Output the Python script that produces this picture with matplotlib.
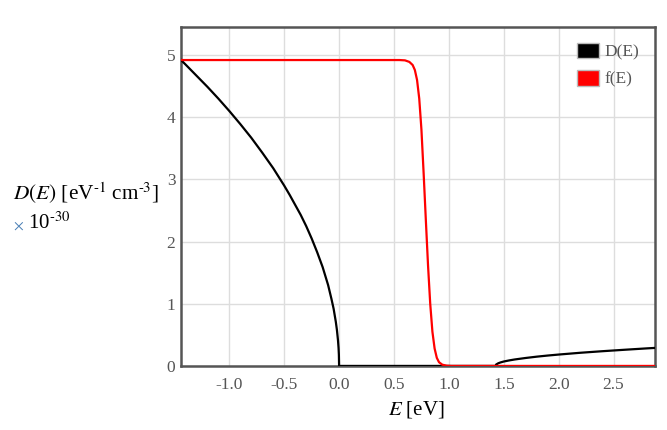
import numpy as np
import matplotlib
matplotlib.use('Agg')
import matplotlib.pyplot as plt
from matplotlib.patches import Patch

plt.rcParams['font.family'] = ['Liberation Serif', 'DejaVu Serif']
plt.rcParams['mathtext.fontset'] = 'stix'
plt.rcParams['axes.unicode_minus'] = False

# density of states D(E), units of 1e30
e_dos = [-1.44, -1.4, -1.3, -1.2, -1.1, -1.0, -0.9, -0.8, -0.7, -0.6, -0.5,
         -0.45, -0.4, -0.35, -0.3, -0.25, -0.2, -0.15, -0.1, -0.07, -0.05,
         -0.03, -0.02, -0.01, -0.005, -0.002, 0.0, 0.5, 1.0, 1.425, 1.43,
         1.45, 1.47, 1.5, 1.55, 1.6, 1.7, 1.8, 1.9, 2.0, 2.2, 2.4, 2.6,
         2.8, 2.88]
d_dos = [4.92, 4.85, 4.67, 4.49, 4.30, 4.10, 3.89, 3.67, 3.43, 3.18, 2.90,
         2.75, 2.59, 2.43, 2.25, 2.05, 1.83, 1.59, 1.30, 1.08, 0.92,
         0.71, 0.58, 0.41, 0.29, 0.18, 0.0, 0.0, 0.0, 0.0, 0.022,
         0.043, 0.056, 0.071, 0.089, 0.104, 0.128, 0.149, 0.167, 0.183,
         0.212, 0.237, 0.26, 0.282, 0.29]

# Fermi function (scaled)
e_f = [-1.44, 0.55, 0.60, 0.64, 0.67, 0.69, 0.71, 0.73, 0.75, 0.77, 0.79,
       0.81, 0.83, 0.85, 0.87, 0.89, 0.91, 0.94, 0.98, 1.02, 2.88]
f_f = [4.92, 4.92, 4.915, 4.89, 4.84, 4.76, 4.6, 4.3, 3.8, 3.1, 2.35,
       1.62, 1.0, 0.55, 0.28, 0.13, 0.06, 0.02, 0.004, 0.0, 0.0]

xticks = [-1.0, -0.5, 0.0, 0.5, 1.0, 1.5, 2.0, 2.5]
yticks = [0, 1, 2, 3, 4, 5]

fig = plt.figure(figsize=(6.67, 4.3), dpi=100)
ax = fig.add_axes([0.2714, 0.149, 0.711, 0.788])

ax.plot(e_dos, d_dos, color='black', lw=1.6, zorder=3)
ax.plot(e_f, f_f, color='#ff0000', lw=1.6, zorder=4)

ax.set_xlim(-1.44, 2.88)
ax.set_ylim(0, 5.45)
ax.set_xticks(xticks)
ax.set_xticklabels(['%.1f' % t for t in xticks])
ax.set_yticks(yticks)
ax.grid(True, color='#dddddd', lw=1)
ax.set_axisbelow(True)
ax.tick_params(length=0, labelsize=12.5, colors='#555555')
ax.tick_params(axis='y', pad=4)
ax.tick_params(axis='x', pad=8)
for s in ax.spines.values():
    s.set_color('#555555')
    s.set_linewidth(1.8)

fig.text(0.624, 0.035, r'$E$ [eV]', ha='center', fontsize=15, color='black')
fig.text(0.02, 0.535, r'$D(E)$ [eV$^{\text{-1}}$ cm$^{\text{-3}}$]',
         fontsize=15.3, color='black')
fig.text(0.02, 0.467, r'$\times$', fontsize=11, color='#4a7fb5')
fig.text(0.042, 0.467, r'10$^{\text{-30}}$', fontsize=15, color='black')

handles = [Patch(facecolor='black', edgecolor='#bbbbbb'),
           Patch(facecolor='#ff0000', edgecolor='#bbbbbb')]
ax.legend(handles, ['D(E)', 'f(E)'], loc='upper right', frameon=False,
          fontsize=12.5, labelcolor='#555555', handlelength=1.25,
          handleheight=1.0, handletextpad=0.35, labelspacing=0.55,
          borderaxespad=0.5)

fig.savefig('out.png', dpi=100)
